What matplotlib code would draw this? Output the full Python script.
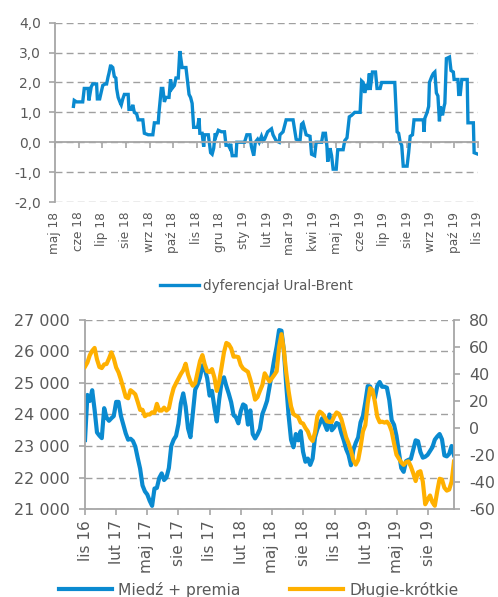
import matplotlib
matplotlib.use("Agg")
import matplotlib.pyplot as plt
from matplotlib.ticker import FuncFormatter, MultipleLocator
import pandas as pd

plt.rcParams["font.family"] = ["DejaVu Sans"]
plt.rcParams["axes.unicode_minus"] = False

MONTHS_PL = ["sty", "lut", "mar", "kwi", "maj", "cze",
             "lip", "sie", "wrz", "paź", "lis", "gru"]

BLUE = "#0A8AD0"
ORANGE = "#FFB000"
GRID = "#A0A0A0"
SPINE = "#A6A6A6"
TEXT = "#595959"

# --- top panel: Ural-Brent spread ---------------------------------------
ural_dates = [
    "2018-05-25", "2018-05-26", "2018-05-29", "2018-06-06", "2018-06-08", "2018-06-13",
    "2018-06-14", "2018-06-17", "2018-06-19", "2018-06-24", "2018-06-25", "2018-06-28",
    "2018-07-02", "2018-07-05", "2018-07-07", "2018-07-09", "2018-07-10", "2018-07-12",
    "2018-07-13", "2018-07-15", "2018-07-17", "2018-07-19", "2018-07-20", "2018-07-22",
    "2018-07-25", "2018-07-26", "2018-07-28", "2018-07-30", "2018-08-04", "2018-08-05",
    "2018-08-08", "2018-08-10", "2018-08-12", "2018-08-15", "2018-08-17", "2018-08-23",
    "2018-08-25", "2018-08-30", "2018-09-05", "2018-09-07", "2018-09-12", "2018-09-13",
    "2018-09-16", "2018-09-18", "2018-09-20", "2018-09-22", "2018-09-26", "2018-09-28",
    "2018-09-30", "2018-10-03", "2018-10-05", "2018-10-08", "2018-10-10", "2018-10-13",
    "2018-10-18", "2018-10-22", "2018-10-24", "2018-10-26", "2018-10-28", "2018-11-02",
    "2018-11-04", "2018-11-05", "2018-11-08", "2018-11-10", "2018-11-11", "2018-11-16",
    "2018-11-19", "2018-11-21", "2018-11-23", "2018-11-25", "2018-11-26", "2018-11-29",
    "2018-12-03", "2018-12-07", "2018-12-09", "2018-12-12", "2018-12-14", "2018-12-15",
    "2018-12-17", "2018-12-22", "2018-12-23", "2019-01-02", "2019-01-05", "2019-01-09",
    "2019-01-11", "2019-01-14", "2019-01-16", "2019-01-19", "2019-01-21", "2019-01-24",
    "2019-01-26", "2019-01-28", "2019-02-01", "2019-02-06", "2019-02-08", "2019-02-12",
    "2019-02-16", "2019-02-17", "2019-02-21", "2019-02-23", "2019-02-25", "2019-03-06",
    "2019-03-10", "2019-03-15", "2019-03-17", "2019-03-19", "2019-03-23", "2019-03-28",
    "2019-03-30", "2019-04-03", "2019-04-05", "2019-04-12", "2019-04-14", "2019-04-17",
    "2019-04-19", "2019-04-20", "2019-04-23", "2019-04-25", "2019-04-27", "2019-05-01",
    "2019-05-03", "2019-05-10", "2019-05-12", "2019-05-15", "2019-05-18", "2019-05-21",
    "2019-05-25", "2019-06-01", "2019-06-03", "2019-06-05", "2019-06-07", "2019-06-09",
    "2019-06-11", "2019-06-13", "2019-06-14", "2019-06-17", "2019-06-21", "2019-06-23",
    "2019-06-27", "2019-06-29", "2019-07-16", "2019-07-19", "2019-07-21", "2019-07-23",
    "2019-07-25", "2019-07-27", "2019-08-01", "2019-08-03", "2019-08-05", "2019-08-08",
    "2019-08-10", "2019-08-22", "2019-08-23", "2019-08-24", "2019-08-27", "2019-08-29",
    "2019-08-30", "2019-09-02", "2019-09-04", "2019-09-06", "2019-09-08", "2019-09-10",
    "2019-09-12", "2019-09-13", "2019-09-16", "2019-09-18", "2019-09-19", "2019-09-21",
    "2019-09-25", "2019-09-27", "2019-09-30", "2019-10-01", "2019-10-06", "2019-10-07",
    "2019-10-09", "2019-10-11", "2019-10-18", "2019-10-19", "2019-10-26", "2019-10-27",
    "2019-11-01",
]
ural_values = [
    1.2, 1.4, 1.35, 1.35, 1.8, 1.8,
    1.4, 1.85, 1.95, 1.95, 1.45, 1.45,
    1.9, 1.95, 1.95, 2.2, 2.3, 2.55,
    2.55, 2.5, 2.2, 2.15, 1.8, 1.5,
    1.3, 1.25, 1.45, 1.6, 1.6, 1.1,
    1.1, 1.25, 1.0, 0.95, 0.75, 0.75,
    0.3, 0.25, 0.25, 0.65, 0.65, 1.0,
    1.8, 1.8, 1.35, 1.5, 1.5, 2.1,
    1.8, 1.9, 2.15, 2.15, 3.05, 2.5,
    2.5, 1.6, 1.5, 1.3, 0.5, 0.5,
    0.8, 0.3, 0.3, -0.15, 0.25, 0.25,
    -0.35, -0.4, -0.2, 0.3, 0.2, 0.4,
    0.35, 0.35, -0.1, -0.1, -0.2, -0.05,
    -0.45, -0.45, 0.0, 0.0, 0.25, 0.25,
    -0.15, -0.45, 0.0, 0.1, 0.0, 0.2,
    0.05, 0.1, 0.35, 0.45, 0.25, 0.05,
    0.0, 0.25, 0.35, 0.55, 0.75, 0.75,
    0.1, 0.05, 0.6, 0.65, 0.25, 0.2,
    -0.4, -0.45, 0.0, 0.0, 0.3, 0.3,
    -0.15, -0.65, -0.2, -0.45, -0.9, -0.9,
    -0.25, -0.25, 0.05, 0.15, 0.85, 0.9,
    1.0, 1.0, 2.05, 2.0, 1.65, 1.95,
    1.75, 2.3, 1.75, 2.35, 2.35, 1.8,
    1.8, 2.0, 2.0, 0.35, 0.3, 0.0,
    -0.1, -0.8, -0.8, -0.35, 0.2, 0.25,
    0.75, 0.75, 0.35, 0.8, 1.0, 1.2,
    2.0, 2.2, 2.3, 2.35, 1.65, 1.55,
    0.7, 1.2, 0.9, 1.2, 1.3, 2.8,
    2.85, 2.4, 2.35, 2.1, 2.1, 1.6,
    1.6, 2.1, 2.1, 0.65, 0.65, -0.35,
    -0.4,
]
ural_label = "dyferencjał Ural-Brent"

# --- bottom panel: copper vs long-short positioning (weekly) -------------
copper_start = "2016-11-01"
copper = [
    23190, 24620, 24430, 24770, 24150, 23430, 23330, 23250, 24200, 23900,
    23800, 23880, 23950, 24400, 24400, 23950, 23670, 23400, 23200, 23230,
    23160, 22980, 22620, 22280, 21750, 21560, 21460, 21260, 21100, 21650,
    21670, 21990, 22130, 21920, 22000, 22300, 23000, 23200, 23320, 23700,
    24350, 24670, 24250, 23560, 23280, 24020, 24790, 24950, 25180, 25560,
    25440, 25150, 24600, 24750, 24230, 23780, 24470, 25030, 25180, 24900,
    24660, 24390, 23980, 23910, 23720, 24100, 24320, 24270, 23680, 24130,
    23380, 23240, 23370, 23540, 24010, 24210, 24440, 24870, 25310, 25760,
    26160, 26680, 26660, 26030, 24920, 23950, 23200, 22960, 23380, 23180,
    23470, 22820, 22500, 22600, 22400, 22600, 23280, 23540, 23720, 23880,
    23700, 23510, 24000, 23500, 23590, 23730, 23690, 23410, 23180, 22900,
    22720, 22390, 22870, 23100, 23270, 23750, 23950, 24390, 24900, 24890,
    24680, 24530, 24910, 25030, 24880, 24880, 24850, 24460, 23820, 23670,
    23320, 22800, 22300, 22180, 22520, 22560, 22590, 22890, 23180, 23150,
    22810, 22630, 22660, 22720, 22840, 22960, 23200, 23300, 23380, 23210,
    22700, 22670, 22750, 23000, 22710,
]
long_short = [
    45.4, 48.5, 53.9, 57.2, 59.3, 50.8, 45.2, 44.4, 47.1, 47.4,
    51.4, 56.0, 51.5, 44.8, 41.2, 35.8, 29.5, 23.0, 22.0, 28.0,
    26.6, 24.9, 19.3, 13.4, 13.5, 8.7, 10.0, 10.0, 11.6, 11.2,
    17.9, 12.9, 12.9, 15.1, 12.9, 14.5, 23.0, 29.6, 33.2, 36.6,
    40.0, 42.8, 47.6, 39.6, 34.4, 31.3, 33.3, 41.3, 49.6, 54.0,
    47.0, 42.0, 41.4, 43.6, 37.5, 27.5, 34.5, 45.0, 56.0, 63.0,
    62.0, 59.0, 52.8, 52.9, 52.5, 46.7, 44.0, 42.8, 41.6, 35.8,
    29.0, 21.0, 22.9, 27.5, 31.7, 40.5, 37.5, 34.4, 36.8, 39.3,
    42.0, 60.0, 69.5, 57.5, 41.0, 27.0, 16.0, 10.3, 9.1, 8.1,
    4.0, 3.3, 0.0, -2.5, -7.4, -9.6, -3.2, 9.0, 12.1, 10.8,
    8.3, 5.0, 4.5, 4.5, 8.7, 11.5, 10.5, 6.6, 0.0, -6.9,
    -11.3, -16.7, -23.7, -27.1, -23.8, -14.3, -2.5, 2.1, 18.5, 29.5,
    28.1, 19.2, 8.3, 4.3, 4.7, 4.0, 4.7, 2.4, -2.5, -11.5,
    -19.8, -22.6, -25.5, -27.3, -25.3, -24.7, -28.5, -33.5, -39.3, -32.8,
    -32.0, -39.8, -56.5, -53.0, -50.0, -55.0, -57.6, -47.0, -37.6, -38.2,
    -44.2, -46.4, -45.6, -39.8, -24.9,
]
copper_label = "Miedź + premia"
ls_label = "Długie-krótkie"


def month_label(d):
    return f"{MONTHS_PL[d.month - 1]} {d.year % 100:02d}"


def style_spine(ax, sides):
    for s in ["top", "right", "left", "bottom"]:
        ax.spines[s].set_visible(s in sides)
        ax.spines[s].set_color(SPINE)
        ax.spines[s].set_linewidth(1.3)


fig = plt.figure(figsize=(4.98, 5.97), dpi=100)

# top chart
ax1 = fig.add_axes([0.1104, 0.6616, 0.8494, 0.3004])
ax1.plot(pd.to_datetime(ural_dates), ural_values, color=BLUE, lw=2.4,
         label=ural_label, solid_joinstyle="miter")
ax1.set_ylim(-2, 4)
ax1.yaxis.set_major_locator(MultipleLocator(1))
ax1.yaxis.set_major_formatter(FuncFormatter(lambda v, p: f"{v:.1f}".replace(".", ",")))
ax1.grid(axis="y", color=GRID, ls=(0, (5, 3)), lw=1.0)
ax1.set_axisbelow(True)
style_spine(ax1, ["left", "bottom"])
ax1.spines["bottom"].set_position(("data", 0))
ax1.spines["bottom"].set_zorder(3)

top_ticks = pd.date_range("2018-05-01", "2019-11-01", freq="MS")
ax1.set_xlim(top_ticks[0], top_ticks[-1])
ax1.set_xticks(top_ticks)
ax1.tick_params(axis="x", length=4, color=SPINE, width=1.2, labelbottom=False)
ax1.tick_params(axis="y", length=4, color=SPINE, width=1.2, labelsize=10,
                labelcolor=TEXT, pad=6)
sec1 = ax1.secondary_xaxis("bottom")
sec1.set_xticks(top_ticks, [month_label(d) for d in top_ticks])
sec1.tick_params(length=0, pad=7, labelsize=8.7, labelcolor=TEXT, labelrotation=90)
sec1.spines["bottom"].set_visible(False)

fig.legend(*ax1.get_legend_handles_labels(), loc="center",
           bbox_to_anchor=(0.515, 0.521), frameon=False, fontsize=9.8,
           handlelength=2.9, handletextpad=0.3, labelcolor=TEXT)

# bottom chart
ax2 = fig.add_axes([0.1707, 0.1474, 0.7409, 0.3166])
dates2 = pd.date_range(copper_start, periods=len(copper), freq="7D")
ax2.plot(dates2, copper, color=BLUE, lw=3.0, label=copper_label)
ax2.set_ylim(21000, 27000)
ax2.yaxis.set_major_locator(MultipleLocator(1000))
ax2.yaxis.set_major_formatter(FuncFormatter(lambda v, p: f"{int(v):,}".replace(",", " ")))
ax2.grid(axis="y", color=GRID, ls=(0, (5, 3)), lw=1.0)
ax2.set_axisbelow(True)
style_spine(ax2, ["left", "bottom"])

ax3 = ax2.twinx()
ax3.plot(dates2, long_short, color=ORANGE, lw=3.0, label=ls_label)
ax3.set_ylim(-60, 80)
ax3.yaxis.set_major_locator(MultipleLocator(20))
ax3.yaxis.set_major_formatter(FuncFormatter(lambda v, p: f"{int(v)}"))
style_spine(ax3, ["right"])

bot_ticks = pd.date_range("2016-11-01", "2019-08-01", freq="3MS")
ax2.set_xlim(dates2[0], dates2[-1])
ax2.set_xticks(bot_ticks, [month_label(d) for d in bot_ticks])
ax2.tick_params(axis="x", length=4, color=SPINE, width=1.2, labelsize=11,
                labelcolor=TEXT, labelrotation=90, pad=4)
ax2.tick_params(axis="y", length=4, color=SPINE, width=1.2, labelsize=11.5,
                labelcolor=TEXT, pad=7)
ax3.tick_params(axis="y", length=4, color=SPINE, width=1.2, labelsize=11.5,
                labelcolor=TEXT, pad=7)

h2, l2 = ax2.get_legend_handles_labels()
h3, l3 = ax3.get_legend_handles_labels()
fig.legend(h2 + h3, l2 + l3, loc="center", ncol=2,
           bbox_to_anchor=(0.52, 0.012), frameon=False, fontsize=11.2,
           handlelength=3.4, handletextpad=0.4, columnspacing=3.2,
           labelcolor=TEXT)

fig.savefig("out.png", dpi=100)
